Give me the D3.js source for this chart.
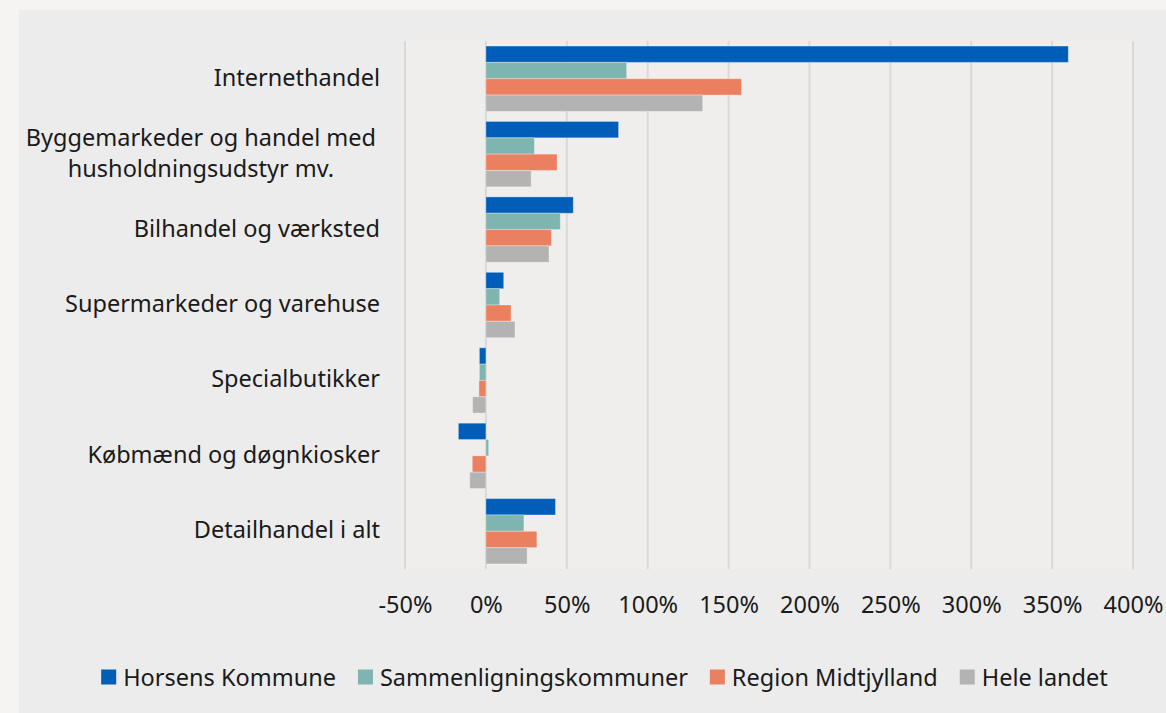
<!DOCTYPE html>
<html>
<head>
<meta charset="utf-8">
<script src="https://cdn.jsdelivr.net/npm/d3@7"></script>
<style>
  body { margin: 0; background: #f5f4f2; }
  svg { display: block; font-family: "Noto Sans", sans-serif; }
</style>
</head>
<body>
<svg id="chart" width="1166" height="713"></svg>
<script>
// data
let categories = [
    ["Internethandel"],
    ["Byggemarkeder og handel med", "husholdningsudstyr mv."],
    ["Bilhandel og værksted"],
    ["Supermarkeder og varehuse"],
    ["Specialbutikker"],
    ["Købmænd og døgnkiosker"],
    ["Detailhandel i alt"]
]
let seriesNames = ["Horsens Kommune", "Sammenligningskommuner", "Region Midtjylland", "Hele landet"]
let horsens = [360, 82, 54, 11, -4, -17, 43]
let sammenlign = [87, 30, 46, 8.5, -4, 1.7, 23.5]
let region = [158, 44, 40.5, 15.5, -4.3, -8.4, 31.5]
let heleLandet = [134, 28, 39, 18, -8.2, -10, 25.5]
let xTicks = [-50, 0, 50, 100, 150, 200, 250, 300, 350, 400]

let colors = ["#005eb8", "#7fb5b0", "#eb8060", "#b3b3b3"]
let values = [horsens, sammenlign, region, heleLandet]

let fontSize = 23.5

let svg = d3.select("#chart")

// baggrund
svg.append("rect")
    .attr("x", 19).attr("y", 10)
    .attr("width", 1166 - 19).attr("height", 713 - 10)
    .attr("fill", "#ececec")

let plot = { left: 405, right: 1133, top: 41, bottom: 569 }

svg.append("rect")
    .attr("x", plot.left - 1).attr("y", plot.top)
    .attr("width", plot.right - plot.left + 2).attr("height", plot.bottom - plot.top)
    .attr("fill", "#efeeec")

let xScale = d3.scaleLinear().domain([-50, 400]).range([plot.left, plot.right])

let catIdx = d3.range(categories.length)
let yScale = d3.scaleBand().domain(catIdx).range([plot.top, plot.bottom])
    .paddingInner(0.134).paddingOuter(0.067)
let ySub = d3.scaleBand().domain(d3.range(seriesNames.length)).range([0, yScale.bandwidth()])

// gitterlinjer
svg.append("g")
    .selectAll("line")
    .data(xTicks)
    .join("line")
    .attr("x1", d => xScale(d)).attr("x2", d => xScale(d))
    .attr("y1", plot.top).attr("y2", plot.bottom)
    .attr("stroke", "#d9d9d9")
    .attr("stroke-width", 2)

// x-akse
let xAxis = d3.axisBottom(xScale)
    .tickValues(xTicks)
    .tickFormat(d => d + "%")
    .tickSize(0)
    .tickPadding(0)

let xAxisGroup = svg.append("g")
    .attr("transform", `translate(0, ${plot.bottom + 27})`)
    .call(xAxis)
xAxisGroup.select(".domain").remove()
xAxisGroup.selectAll("text")
    .attr("font-size", fontSize)
    .attr("font-family", "Noto Sans")
    .attr("fill", "#1a1a1a")

// søjler
let rows = []
catIdx.forEach(i => {
    values.forEach((s, j) => {
        rows.push({ cat: i, ser: j, value: s[i] })
    })
})

svg.append("g")
    .selectAll("rect")
    .data(rows)
    .join("rect")
    .attr("x", d => xScale(Math.min(0, d.value)))
    .attr("width", d => Math.abs(xScale(d.value) - xScale(0)))
    .attr("y", d => yScale(d.cat) + ySub(d.ser))
    .attr("height", ySub.bandwidth())
    .attr("fill", d => colors[d.ser])
    .attr("stroke", "#ffffff")
    .attr("stroke-opacity", 0.3)
    .attr("stroke-width", 1)

// kategorier
let catGroup = svg.append("g")
catIdx.forEach(i => {
    let lines = categories[i]
    let cy = yScale(i) + yScale.bandwidth() / 2 - 2
    let lineH = 31
    let t = catGroup.append("text")
        .attr("font-size", fontSize)
        .attr("fill", "#1a1a1a")
        .attr("dominant-baseline", "central")
    lines.forEach((l, k) => {
        t.append("tspan")
            .attr("y", cy + (k - (lines.length - 1) / 2) * lineH)
            .text(l)
    })
    // højrejuster blokken, centrer linjerne indbyrdes
    let widths = []
    t.selectAll("tspan").each(function () { widths.push(this.getComputedTextLength()) })
    let maxW = d3.max(widths)
    let right = lines.length > 1 ? 376 : 380
    t.attr("text-anchor", "middle")
    t.selectAll("tspan").attr("x", right - maxW / 2)
})

// signatur
let legend = svg.append("g")
let lx = 0
seriesNames.forEach((name, j) => {
    let g = legend.append("g")
    g.append("rect")
        .attr("width", 15).attr("height", 15)
        .attr("y", -7.5)
        .attr("fill", colors[j])
    let txt = g.append("text")
        .attr("x", 22)
        .attr("font-size", fontSize)
        .attr("fill", "#1a1a1a")
        .attr("dominant-baseline", "central")
        .text(name)
    let w = 22 + txt.node().getComputedTextLength()
    g.attr("transform", `translate(${lx}, 0)`)
    lx += w + 22
})
let totalW = lx - 22
legend.attr("transform", `translate(${604.5 - totalW / 2}, 677)`)
</script>
</body>
</html>
